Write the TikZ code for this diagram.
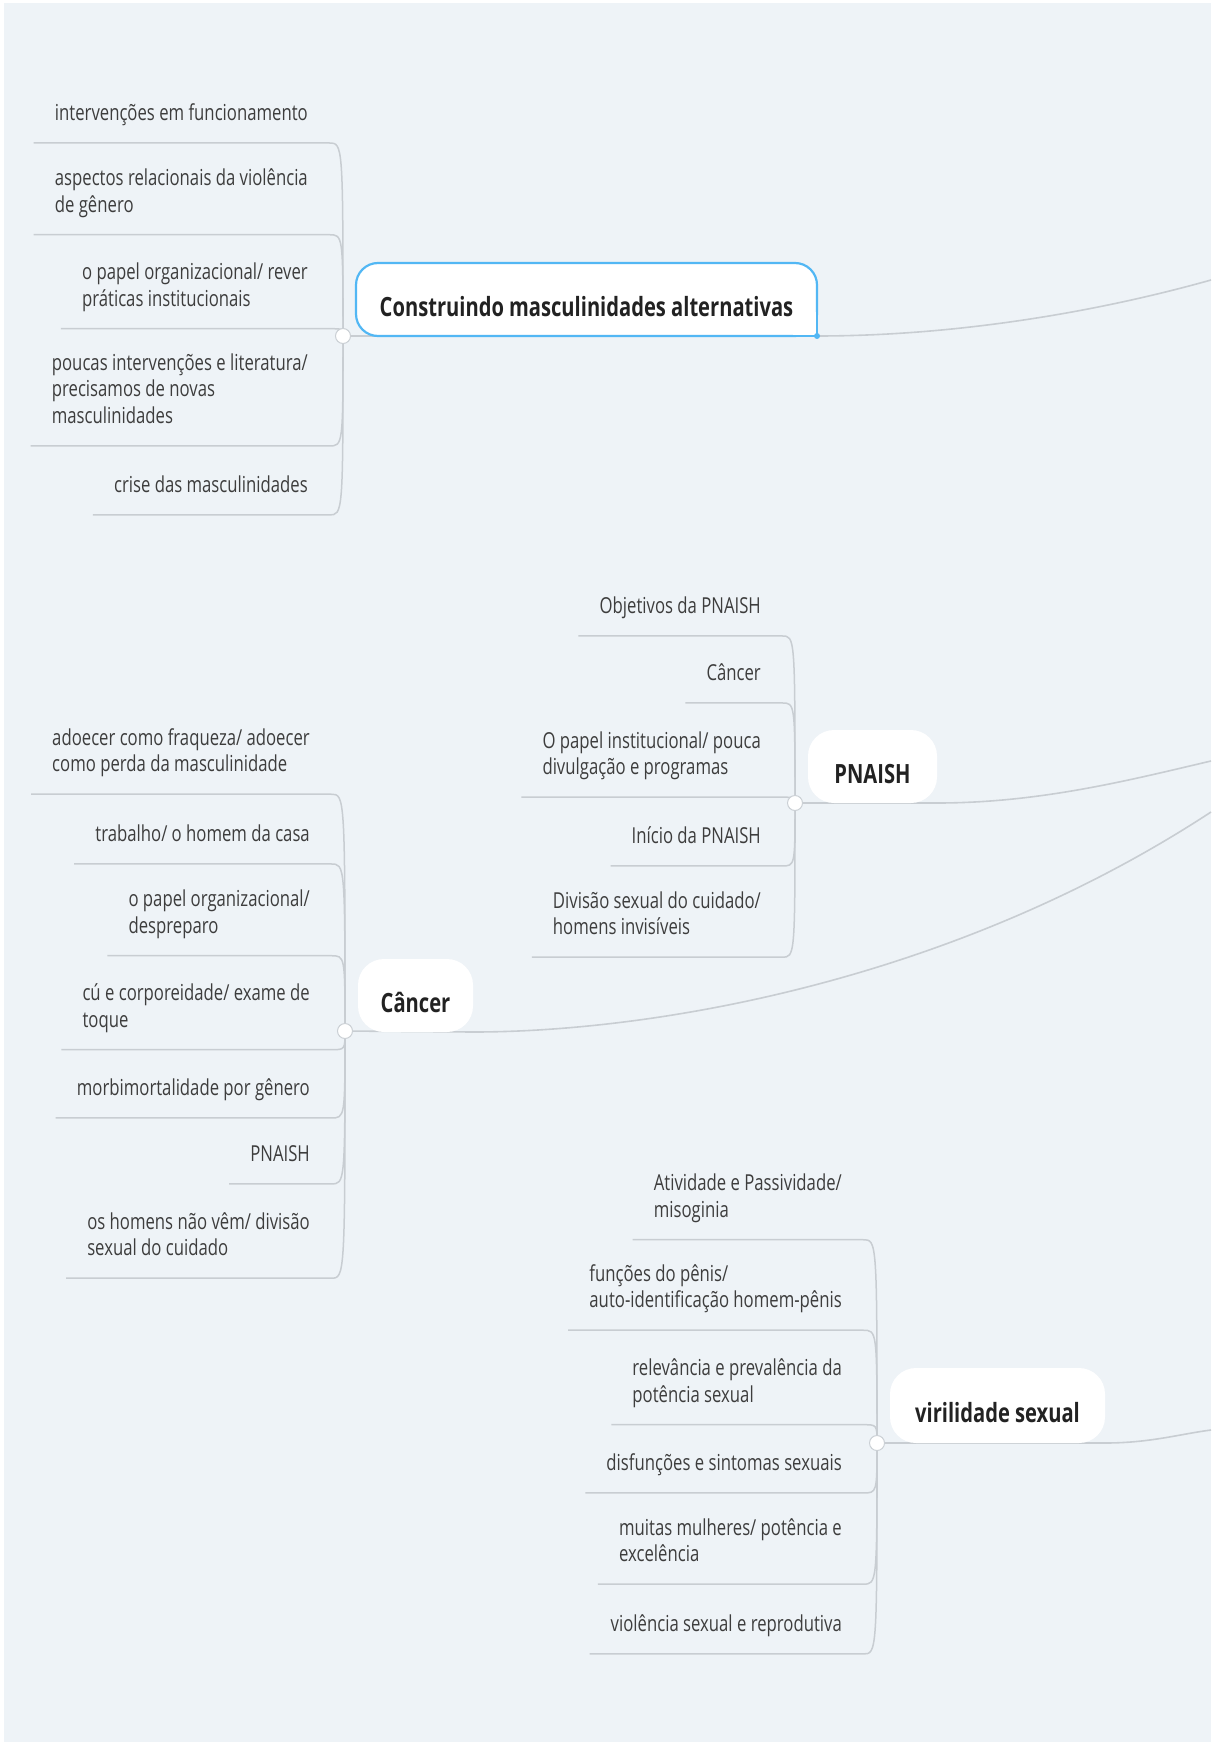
\documentclass[tikz,border=0pt]{standalone}
\usepackage{fontspec}
\newfontfamily\mmfont[FakeStretch=0.76]{Open Sans}
\newcommand\leaffont{\mmfont\fontsize{22}{26.5}\selectfont}
\newcommand\topicfont{\mmfont\bfseries\fontsize{26.5}{31}\selectfont}
\definecolor{bgcol}{HTML}{EEF3F7}
\definecolor{linecol}{HTML}{C8CDD2}
\definecolor{junccol}{HTML}{CBD0D5}
\definecolor{leafcol}{HTML}{3D3D3D}
\definecolor{topiccol}{HTML}{222222}
\definecolor{selblue}{HTML}{52B7F4}
\pgfdeclarelayer{back}
\pgfdeclarelayer{wires}
\pgfsetlayers{back,wires,main}
\tikzset{
  leaf/.style={anchor=east, align=left, font=\leaffont, text=leafcol,
    inner xsep=21pt, inner ysep=14.5pt},
  topic/.style={fill=white, rounded corners=26pt, font=\topicfont,
    text=topiccol, inner sep=0pt, outer sep=0pt,
    text height=34pt, text depth=0pt},
  branch/.style={draw=linecol, line width=1.5pt},
  trunk/.style={draw=linecol, line width=1.6pt},
  junc/.style={circle, fill=white, draw=junccol, line width=1pt,
    minimum size=15pt, inner sep=0pt},
}
\begin{document}
\begin{tikzpicture}[x=1pt, y=-1pt]
\useasboundingbox (0,0) rectangle (1211,1742);
\begin{pgfonlayer}{back}
  \fill[white] (0,0) rectangle (1211,1742);
  \fill[bgcol] (4,3) rectangle (1211,1742);
\end{pgfonlayer}

% ---------- topics ----------
\node[topic, draw=selblue, line width=2.2pt, rounded corners=22pt,
  minimum width=461pt, minimum height=73pt] (cma) at (586.5,299.5)
  {Construindo masculinidades alternativas};
\fill[white] (cma.south east) rectangle ++(-24,-24);
\draw[selblue, line width=2.2pt] (cma.south east) -- ++(-28,0);
\draw[selblue, line width=2.2pt] (cma.south east) -- ++(0,-28);
\fill[selblue] (cma.south east) circle (3);

\node[topic, minimum width=129pt, minimum height=73pt] (pn) at (872.5,766.5)
  {PNAISH};
\node[topic, minimum width=115pt, minimum height=73pt] (ca) at (415.5,995.5)
  {Câncer};
\node[topic, minimum width=215pt, minimum height=75pt] (vs) at (997.5,1405.5)
  {virilidade sexual};

% junction points
\coordinate (j1) at (343,336);
\coordinate (j2) at (795,803);
\coordinate (j3) at (345,1031);
\coordinate (j4) at (877,1443);

% loose ends towards the central topic
\coordinate (e1) at (1211,280);
\coordinate (e2) at (1211,761);
\coordinate (e3) at (1211,812);
\coordinate (e4) at (1211,1430);

\begin{pgfonlayer}{wires}
  \draw[trunk] (j1) -- (cma.south east) .. controls (950,336) and (1090,314) .. (e1);
  \draw[trunk] (j2) -- (pn.south east) .. controls (1040,803) and (1130,780) .. (e2);
  \draw[trunk] (j3) -- (ca.south east) .. controls (650,1032) and (950,983) .. (e3);
  \draw[trunk] (j4) -- (vs.south east) .. controls (1150,1443) and (1180,1434) .. (e4);
\end{pgfonlayer}

% ---------- Construindo masculinidades alternativas ----------
\node[leaf] (a1) at (329,115) {\strut intervenções em funcionamento};
\node[leaf] (a2) at (329,193.5) {\strut aspectos relacionais da violência\\de gênero\strut};
\node[leaf] (a3) at (329,287.5) {\strut o papel organizacional/ rever\\práticas institucionais\strut};
\node[leaf] (a4) at (329,391.5) {\strut poucas intervenções e literatura/\\precisamos de novas\\masculinidades\strut};
\node[leaf] (a5) at (329,487) {\strut crise das masculinidades};
\foreach \n in {a1,a2,a3,a4,a5}
  \draw[branch] (\n.south west) -- (\n.south east) .. controls (j1 |- \n.south) .. (j1);

% ---------- PNAISH ----------
\node[leaf] (b1) at (782,608) {\strut Objetivos da PNAISH};
\node[leaf] (b2) at (782,675) {\strut Câncer};
\node[leaf] (b3) at (782,756) {\strut O papel institucional/ pouca\\divulgação e programas\strut};
\node[leaf] (b4) at (782,838) {\strut Início da PNAISH};
\node[leaf] (b5) at (782,916) {\strut Divisão sexual do cuidado/\\homens invisíveis\strut};
\foreach \n in {b1,b2,b3,b4,b5}
  \draw[branch] (\n.south west) -- (\n.south east) .. controls (j2 |- \n.south) .. (j2);

% ---------- Câncer ----------
\node[leaf] (c1) at (331,753) {\strut adoecer como fraqueza/ adoecer\\como perda da masculinidade\strut};
\node[leaf] (c2) at (331,836) {\strut trabalho/ o homem da casa};
\node[leaf] (c3) at (331,914.5) {\strut o papel organizacional/\\despreparo\strut};
\node[leaf] (c4) at (331,1008.5) {\strut cú e corporeidade/ exame de\\toque\strut};
\node[leaf] (c5) at (331,1090) {\strut morbimortalidade por gênero};
\node[leaf] (c6) at (331,1156) {\strut PNAISH};
\node[leaf] (c7) at (331,1237) {\strut os homens não vêm/ divisão\\sexual do cuidado\strut};
\foreach \n in {c1,c2,c3,c4,c5,c6,c7}
  \draw[branch] (\n.south west) -- (\n.south east) .. controls (j3 |- \n.south) .. (j3);

% ---------- virilidade sexual ----------
\node[leaf] (d1) at (863,1198.5) {\strut Atividade e Passividade/\\misoginia\strut};
\node[leaf] (d2) at (863,1289) {\strut funções do pênis/\\auto-identificação homem-pênis\strut};
\node[leaf] (d3) at (863,1383.5) {\strut relevância e prevalência da\\potência sexual\strut};
\node[leaf] (d4) at (863,1465) {\strut disfunções e sintomas sexuais};
\node[leaf] (d5) at (863,1543) {\strut muitas mulheres/ potência e\\excelência\strut};
\node[leaf] (d6) at (863,1626) {\strut violência sexual e reprodutiva};
\foreach \n in {d1,d2,d3,d4,d5,d6}
  \draw[branch] (\n.south west) -- (\n.south east) .. controls (j4 |- \n.south) .. (j4);

% junction knobs
\node[junc] (k1) at (j1) {};
\node[junc] (k2) at (j2) {};
\node[junc] (k3) at (j3) {};
\node[junc] (k4) at (j4) {};
\end{tikzpicture}
\end{document}
